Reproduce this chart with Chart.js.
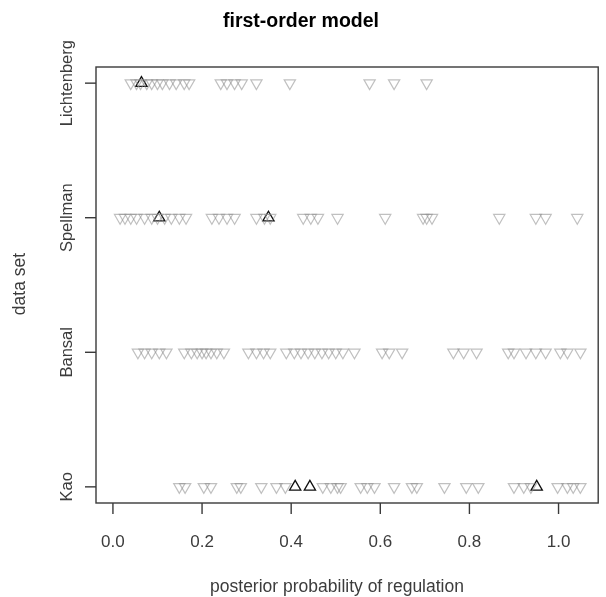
<!DOCTYPE html>
<html lang="en">
<head>
    <meta charset="UTF-8">
    <title>first-order model</title>
    <script src="https://cdn.jsdelivr.net/npm/chart.js"></script>
    <style>
        * { margin: 0; padding: 0; box-sizing: border-box; }
        body { background: #fff; }
        #wrap { width: 606px; height: 597px; }
    </style>
</head>
<body>
<div id="wrap"><canvas id="stripCanvas"></canvas></div>
<script>
    // data sets, bottom to top
    var categories = ['Kao', 'Bansal', 'Spellman', 'Lichtenberg'];
    var xTicks = [0.0, 0.2, 0.4, 0.6, 0.8, 1.0];

    // posterior probabilities (grey, downward triangles)
    var kaoDown = [0.149, 0.162, 0.204, 0.22, 0.278, 0.287, 0.333, 0.367, 0.387, 0.471, 0.489, 0.504, 0.511,
        0.556, 0.571, 0.587, 0.631, 0.671, 0.682, 0.744, 0.793, 0.82, 0.9, 0.922, 0.938, 0.998, 1.02, 1.033, 1.049];
    var bansalDown = [0.056, 0.071, 0.087, 0.104, 0.12, 0.16, 0.176, 0.189, 0.2, 0.209, 0.22, 0.233, 0.249,
        0.304, 0.322, 0.338, 0.353, 0.389, 0.407, 0.422, 0.438, 0.453, 0.469, 0.484, 0.5, 0.516, 0.542,
        0.604, 0.62, 0.649, 0.764, 0.787, 0.816, 0.887, 0.9, 0.927, 0.949, 0.971, 1.004, 1.02, 1.049];
    var spellmanDown = [0.016, 0.027, 0.04, 0.053, 0.071, 0.087, 0.1, 0.116, 0.131, 0.149, 0.164, 0.222, 0.238,
        0.256, 0.273, 0.322, 0.34, 0.353, 0.427, 0.444, 0.46, 0.504, 0.611, 0.696, 0.704, 0.716, 0.867,
        0.949, 0.971, 1.042];
    var lichtenbergDown = [0.04, 0.053, 0.062, 0.076, 0.087, 0.1, 0.111, 0.127, 0.142, 0.16, 0.171, 0.242,
        0.256, 0.273, 0.289, 0.322, 0.397, 0.576, 0.631, 0.704];

    // known regulators (black, upward triangles)
    var kaoUp = [0.409, 0.442, 0.951];
    var bansalUp = [];
    var spellmanUp = [0.104, 0.349];
    var lichtenbergUp = [0.064];

    function toPoints(rows) {
        var pts = [];
        rows.forEach(function (vals, i) {
            vals.forEach(function (v) { pts.push({ x: v, y: i + 1 }); });
        });
        return pts;
    }

    var fontFam = '"Liberation Sans", Arial, sans-serif';

    // R-style box, ticks and labels drawn from the chart's scales
    var rAxes = {
        id: 'rAxes',
        afterDraw: function (chart) {
            var ctx = chart.ctx, a = chart.chartArea;
            var xs = chart.scales.x, ys = chart.scales.y;
            ctx.save();
            ctx.strokeStyle = '#3a3a3a';
            ctx.lineWidth = 1.4;
            ctx.strokeRect(a.left, a.top, a.right - a.left, a.bottom - a.top);

            ctx.fillStyle = '#3c3c3c';
            ctx.font = '17px ' + fontFam;
            ctx.textAlign = 'center';
            ctx.textBaseline = 'middle';
            xTicks.forEach(function (t) {
                var px = xs.getPixelForValue(t);
                ctx.beginPath();
                ctx.moveTo(px, a.bottom);
                ctx.lineTo(px, a.bottom + 11);
                ctx.stroke();
                ctx.fillText(t.toFixed(1), px, 542);
            });
            ctx.font = '16.5px ' + fontFam;
            categories.forEach(function (c, i) {
                var py = ys.getPixelForValue(i + 1);
                ctx.beginPath();
                ctx.moveTo(a.left, py);
                ctx.lineTo(a.left - 11, py);
                ctx.stroke();
                ctx.save();
                ctx.translate(67, py);
                ctx.rotate(-Math.PI / 2);
                ctx.fillText(c, 0, 0);
                ctx.restore();
            });

            ctx.font = '17.5px ' + fontFam;
            ctx.fillText('posterior probability of regulation', 337, 587);
            ctx.save();
            ctx.translate(20, 284);
            ctx.rotate(-Math.PI / 2);
            ctx.fillText('data set', 0, 0);
            ctx.restore();

            ctx.fillStyle = '#000';
            ctx.font = 'bold 19.5px ' + fontFam;
            ctx.fillText('first-order model', 301, 22);
            ctx.restore();
        }
    };

    var chart = new Chart(document.getElementById('stripCanvas'), {
        type: 'scatter',
        data: {
            datasets: [{
                label: 'other',
                data: toPoints([kaoDown, bansalDown, spellmanDown, lichtenbergDown]),
                pointStyle: 'triangle',
                rotation: 180,
                pointRadius: 6.5,
                borderWidth: 1.2,
                borderColor: 'rgba(140,140,140,0.55)',
                backgroundColor: 'rgba(0,0,0,0)'
            }, {
                label: 'regulator',
                data: toPoints([kaoUp, bansalUp, spellmanUp, lichtenbergUp]),
                pointStyle: 'triangle',
                pointRadius: 6.5,
                borderWidth: 1.3,
                borderColor: '#111',
                backgroundColor: 'rgba(0,0,0,0)'
            }]
        },
        options: {
            responsive: true,
            maintainAspectRatio: false,
            animation: false,
            layout: { padding: { left: 96, top: 67, right: 3, bottom: 94 } },
            plugins: { legend: { display: false }, tooltip: { enabled: false } },
            scales: {
                x: { type: 'linear', min: -0.038, max: 1.089, display: false },
                y: { type: 'linear', min: 0.88, max: 4.12, display: false }
            }
        },
        plugins: [rAxes]
    });
</script>
</body>
</html>
